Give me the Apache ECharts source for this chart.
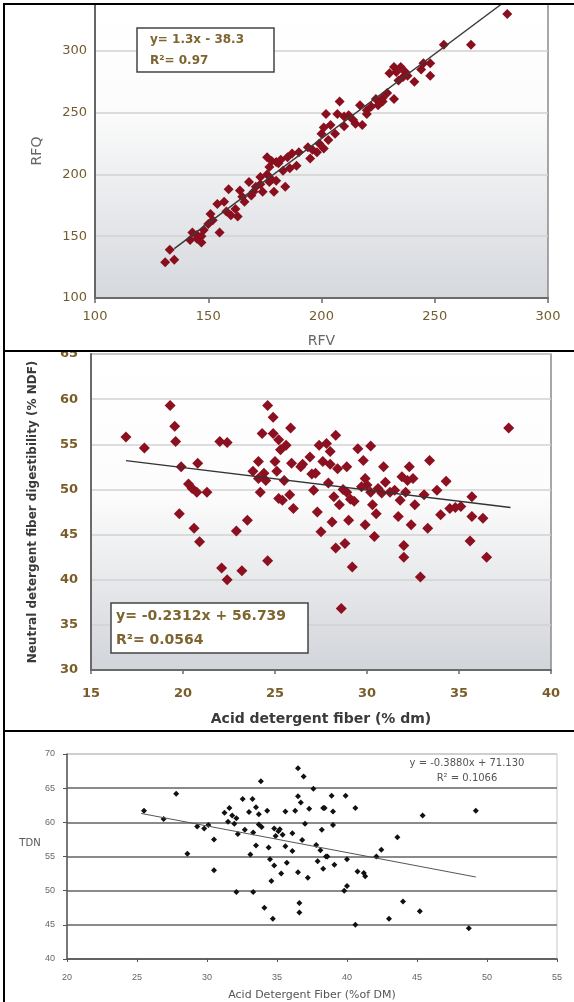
<!DOCTYPE html>
<html><head><meta charset="utf-8">
<script src="https://cdn.jsdelivr.net/npm/echarts@6/dist/echarts.min.js"></script>
<style>html,body{margin:0;padding:0;background:#fff}#c{width:574px;height:1002px}</style>
</head><body><div id="c"></div>
<script>
// ---------- Panel 1: RFQ vs RFV ----------
const rfvTicks = [100, 150, 200, 250, 300];
const rfqTicks = [100, 150, 200, 250, 300];
const rfqData = [
 [131,129],[133,139],[135,131],[142,147],[143,153],[145,151],[147,145],[148,155],[150,160],[151,168],
 [152,163],[155,153],[154,176],[157,178],[159,188],[160,167],[163,166],[164,187],[165,182],[166,178],
 [168,194],[169,183],[171,190],[173,198],[174,186],[176,214],[177,194],[177,206],[178,211],[179,186],
 [180,195],[181,209],[183,203],[184,190],[185,214],[187,217],[189,207],[190,218],[194,222],[195,213],
 [198,218],[199,225],[201,221],[200,233],[201,238],[202,249],[204,240],[206,233],[207,249],[208,259],
 [210,247],[212,248],[214,244],[215,241],[217,256],[218,240],[220,249],[224,261],[225,256],[227,259],
 [229,266],[230,282],[232,287],[232,261],[233,283],[235,287],[236,279],[237,283],[241,275],[245,290],
 [248,280],[248,290],[254,305],[266,305],[282,330],
 [145,148],[147,150],[158,170],[170,186],[176,200],[178,196],[180,210],[182,212],[186,205],[196,220],
 [203,228],[210,239],[220,252],[222,255],[234,276],[238,280],[244,285],[227,262],[173,192],[162,172]
];
const rfqTrend = [[135,140],[279.5,338]];
const rfqEq = ['y= 1.3x - 38.3', 'R²= 0.97'];

// ---------- Panel 2: NDF digestibility vs ADF ----------
const adfTicks = [15, 20, 25, 30, 35, 40];
const ndfdTicks = [30, 35, 40, 45, 50, 55, 60, 65];
const ndfdData = [
 [16.9,55.8],[17.9,54.6],[19.3,59.3],[19.55,57.0],[19.6,55.3],[19.9,52.5],[19.8,47.3],[20.3,50.6],[20.5,50.1],[20.6,45.7],
 [20.8,52.9],[20.75,49.7],[20.9,44.2],[21.3,49.7],[22.1,41.3],[22.0,55.3],[22.4,55.2],[22.4,40.0],[22.9,45.4],[23.2,41.0],
 [23.5,46.6],[23.8,52.0],[24.1,53.1],[24.2,49.7],[24.1,51.2],[24.4,51.8],[24.3,56.2],[24.6,59.3],[24.6,42.1],[24.9,58.0],
 [24.9,56.2],[25.0,53.1],[25.1,52.0],[25.2,55.5],[25.3,54.4],[25.4,48.8],[25.5,51.0],[25.6,54.9],[25.8,49.4],[25.85,56.8],
 [26.0,47.9],[25.9,52.9],[26.4,52.5],[26.9,53.6],[27.1,49.9],[27.2,51.8],[27.4,54.9],[27.3,47.5],[27.5,45.3],[27.6,53.1],
 [27.8,55.1],[27.9,50.7],[28.0,54.2],[28.1,46.4],[28.2,49.2],[28.3,56.0],[28.3,43.5],[28.4,52.3],[28.5,48.3],[28.6,36.8],
 [28.8,44.0],[28.9,52.5],[28.9,49.7],[29.0,46.6],[29.2,41.4],[29.3,48.7],[29.5,54.5],[29.7,50.3],[29.8,53.2],[29.9,51.2],
 [29.9,46.1],[30.2,54.8],[30.2,49.7],[30.3,48.3],[30.4,44.8],[30.5,47.3],[30.6,50.1],[30.9,52.5],[31.0,50.8],[30.8,49.6],
 [31.25,49.7],[31.7,47.0],[31.8,48.8],[31.9,51.4],[32.0,43.8],[32.0,42.5],[32.1,49.7],[32.3,52.5],[32.4,46.1],[32.5,51.2],
 [32.6,48.3],[32.9,40.3],[33.1,49.4],[33.3,45.7],[33.4,53.2],[33.8,49.9],[34.0,47.2],[34.3,50.9],[34.5,47.9],[34.8,48.0],
 [35.1,48.1],[35.7,49.2],[35.6,44.3],[35.7,47.0],[36.3,46.8],[36.5,42.5],[37.7,56.8],
 [25.2,49.0],[26.5,52.8],[28.0,52.8],[28.7,50.0],[30.0,50.5],[31.5,49.9],[32.2,51.0],[24.5,51.0],[29.1,48.9],[27.0,51.7]
];
const ndfdTrend = [[16.9,53.2],[37.8,48.0]];
const ndfdEq = ['y= -0.2312x + 56.739', 'R²= 0.0564'];

// ---------- Panel 3: TDN vs ADF ----------
const adf2Ticks = [20, 25, 30, 35, 40, 45, 50, 55];
const tdnTicks = [40, 45, 50, 55, 60, 65, 70];
const tdnData = [
 [25.5,61.7],[26.9,60.5],[27.8,64.2],[28.6,55.4],[29.3,59.4],[29.8,59.1],[30.1,59.6],[30.5,57.5],[30.5,53.0],[31.25,61.4],
 [31.5,60.1],[31.6,62.1],[31.8,61.0],[31.95,59.8],[32.1,60.6],[32.1,49.8],[32.2,58.3],[32.55,63.4],[32.7,58.9],[33.0,61.5],
 [33.1,55.3],[33.25,63.4],[33.3,49.8],[33.3,58.5],[33.5,56.6],[33.5,62.2],[33.7,59.7],[33.7,61.2],[33.85,66.0],[33.9,59.3],
 [34.1,47.5],[34.3,61.7],[34.4,56.3],[34.5,54.6],[34.6,51.4],[34.7,45.9],[34.8,59.1],[34.8,53.7],[34.9,58.0],[35.1,58.7],
 [35.2,59.0],[35.3,52.5],[35.4,58.2],[35.6,61.6],[35.6,56.5],[35.7,54.1],[36.1,58.4],[36.1,55.8],[36.3,61.7],[36.5,67.9],
 [36.5,63.8],[36.5,52.7],[36.6,48.2],[36.6,46.8],[36.7,62.9],[36.8,57.4],[36.9,66.7],[37.0,59.8],[37.2,51.9],[37.3,62.0],
 [37.6,64.9],[37.8,56.7],[37.9,54.3],[38.1,55.9],[38.2,58.9],[38.3,62.1],[38.3,53.2],[38.4,62.1],[38.5,55.0],[38.6,55.0],
 [38.9,63.9],[39.0,59.6],[39.0,61.6],[39.1,53.8],[39.8,50.0],[39.9,63.9],[40.0,54.6],[40.0,50.7],[40.6,62.1],[40.6,45.0],
 [40.75,52.8],[41.2,52.6],[41.3,52.1],[42.1,55.0],[42.45,56.0],[43.0,45.9],[43.6,57.8],[44.0,48.4],[45.2,47.0],[45.4,61.0],
 [48.7,44.5],[49.2,61.7]
];
const tdnTrend = [[25.3,61.3],[49.2,52.0]];
const tdnEq = ['y = -0.3880x + 71.130', 'R² = 0.1066'];

const FF = '"DejaVu Sans", "Liberation Sans", sans-serif';
const FL = '"Liberation Sans", Arial, sans-serif';
const chart = echarts.init(document.getElementById('c'), null, {renderer: 'canvas'});

function only(ticks) { return v => ticks.includes(v) ? String(v) : ''; }

const grad = (mid, end) => ({type: 'linear', x: 0, y: 0, x2: 0, y2: 1,
  colorStops: [{offset: 0, color: '#ffffff'}, {offset: mid, color: '#fcfcfc'}, {offset: 1, color: end}]});

const option = {
  animation: false,
  grid: [
    {left: 95, top: 4, width: 453, height: 294, show: true, backgroundColor: grad(0.35, '#d5d8dd'), borderColor: '#8a8a8a', borderWidth: 1.5},
    {left: 91, top: 354, width: 460, height: 316, show: true, backgroundColor: grad(0.45, '#d1d4d9'), borderColor: '#8a8a8a', borderWidth: 1.5},
    {left: 67, top: 754, width: 490, height: 205, show: true, backgroundColor: '#fff', borderColor: '#c8c8c8', borderWidth: 1}
  ],
  xAxis: [
    {gridIndex: 0, type: 'value', min: rfvTicks[0], max: rfvTicks[rfvTicks.length-1], interval: 50,
     axisLine: {lineStyle: {color: '#6a6a6a', width: 2}}, axisTick: {show: true, length: 5, lineStyle: {color: '#6a6a6a', width: 1.5}},
     axisLabel: {color: '#735b2f', fontSize: 13, margin: 12, fontFamily: FF, formatter: only(rfvTicks)}, splitLine: {show: false},
     name: 'RFV', nameLocation: 'middle', nameGap: 36, nameTextStyle: {color: '#666', fontSize: 14, fontFamily: FF}},
    {gridIndex: 1, type: 'value', min: adfTicks[0], max: adfTicks[adfTicks.length-1], interval: 5,
     axisLine: {lineStyle: {color: '#6a6a6a', width: 2}}, axisTick: {show: true, length: 4, lineStyle: {color: '#6a6a6a', width: 1.5}},
     axisLabel: {color: '#7a5c28', fontSize: 13, fontWeight: 'bold', margin: 17, fontFamily: FF, formatter: only(adfTicks)}, splitLine: {show: false},
     name: 'Acid detergent fiber (% dm)', nameLocation: 'middle', nameGap: 42,
     nameTextStyle: {color: '#3a3a3a', fontSize: 14, fontWeight: 'bold', fontFamily: FF}},
    {gridIndex: 2, type: 'value', min: adf2Ticks[0], max: adf2Ticks[adf2Ticks.length-1], interval: 5,
     axisLine: {lineStyle: {color: '#555', width: 1.5}}, axisTick: {show: true, length: 3, lineStyle: {color: '#555'}},
     axisLabel: {color: '#666', fontSize: 9, margin: 14, fontFamily: FL, formatter: only(adf2Ticks)}, splitLine: {show: false},
     name: 'Acid Detergent Fiber (%of DM)', nameLocation: 'middle', nameGap: 31,
     nameTextStyle: {color: '#555', fontSize: 11, fontFamily: FF}}
  ],
  yAxis: [
    {gridIndex: 0, type: 'value', min: rfqTicks[0], max: 338, interval: 50,
     axisLine: {show: true, lineStyle: {color: '#666', width: 2}}, axisTick: {show: false},
     axisLabel: {color: '#735b2f', fontSize: 13, margin: 8, fontFamily: FF, formatter: only(rfqTicks)},
     splitLine: {show: true, lineStyle: {color: '#d2d2d2', width: 1.5}},
     name: 'RFQ', nameLocation: 'middle', nameGap: 51, nameTextStyle: {color: '#666', fontSize: 14, fontFamily: FF}},
    {gridIndex: 1, type: 'value', min: ndfdTicks[0], max: ndfdTicks[ndfdTicks.length-1], interval: 5,
     axisLine: {show: true, lineStyle: {color: '#6a6a6a', width: 2}}, axisTick: {show: false},
     axisLabel: {color: '#7a5c28', fontSize: 13, fontWeight: 'bold', margin: 13, fontFamily: FF, formatter: only(ndfdTicks)},
     splitLine: {show: true, lineStyle: {color: '#d2d2d2', width: 1.5}},
     name: 'Neutral detergent fiber digestibility (% NDF)', nameLocation: 'middle', nameGap: 52,
     nameTextStyle: {color: '#3a3a3a', fontSize: 12, fontWeight: 'bold', fontFamily: FF}},
    {gridIndex: 2, type: 'value', min: tdnTicks[0], max: tdnTicks[tdnTicks.length-1], interval: 5,
     axisLine: {show: true, lineStyle: {color: '#555', width: 1.5}}, axisTick: {show: true, length: 4, lineStyle: {color: '#555'}},
     axisLabel: {color: '#666', fontSize: 9, margin: 12, fontFamily: FL, formatter: only(tdnTicks)},
     splitLine: {show: true, lineStyle: {color: ['#8a8a8a','#8a8a8a','#8a8a8a','#8a8a8a','#8a8a8a','#8a8a8a','#cfcfcf'], width: 1.8}}}
  ],
  series: [
    {type: 'scatter', xAxisIndex: 0, yAxisIndex: 0, data: rfqData, symbol: 'diamond', symbolSize: 10,
     itemStyle: {color: '#8a0f1e', opacity: 1}, z: 2},
    {type: 'line', xAxisIndex: 0, yAxisIndex: 0, data: rfqTrend, symbol: 'none', lineStyle: {color: '#3a3a3a', width: 1.5}, z: 3},
    {type: 'scatter', xAxisIndex: 1, yAxisIndex: 1, data: ndfdData, symbol: 'diamond', symbolSize: 11,
     itemStyle: {color: '#8c1020', opacity: 1}, z: 2},
    {type: 'line', xAxisIndex: 1, yAxisIndex: 1, data: ndfdTrend, symbol: 'none', lineStyle: {color: '#333', width: 1.3}, z: 3},
    {type: 'scatter', xAxisIndex: 2, yAxisIndex: 2, data: tdnData, symbol: 'diamond', symbolSize: 6,
     itemStyle: {color: '#111', opacity: 1}, z: 2},
    {type: 'line', xAxisIndex: 2, yAxisIndex: 2, data: tdnTrend, symbol: 'none', lineStyle: {color: '#555', width: 1}, z: 3}
  ],
  graphic: [
    // equation box panel 1
    {type: 'rect', shape: {x: 137, y: 28, width: 137, height: 44}, style: {fill: '#fff', stroke: '#444', lineWidth: 1.5}, z: 50},
    {type: 'text', x: 150, y: 40, style: {text: rfqEq[0], fill: '#7d6530', font: 'bold 12px ' + FF, verticalAlign: 'middle'}, z: 51},
    {type: 'text', x: 150, y: 61, style: {text: rfqEq[1], fill: '#7d6530', font: 'bold 12px ' + FF, verticalAlign: 'middle'}, z: 51},
    // equation box panel 2
    {type: 'rect', shape: {x: 111, y: 603, width: 197, height: 50}, style: {fill: '#fff', stroke: '#444', lineWidth: 1.5}, z: 50},
    {type: 'text', x: 116, y: 616, style: {text: ndfdEq[0], fill: '#7d6530', font: 'bold 14px ' + FF, verticalAlign: 'middle'}, z: 51},
    {type: 'text', x: 116, y: 640, style: {text: ndfdEq[1], fill: '#7d6530', font: 'bold 14px ' + FF, verticalAlign: 'middle'}, z: 51},
    // equation panel 3
    {type: 'text', x: 467, y: 763, style: {text: tdnEq[0], fill: '#555', font: '10px ' + FF, align: 'center', verticalAlign: 'middle'}, z: 51},
    {type: 'text', x: 467, y: 778, style: {text: tdnEq[1], fill: '#555', font: '10px ' + FF, align: 'center', verticalAlign: 'middle'}, z: 51},
    // TDN axis title
    {type: 'text', x: 30, y: 843, style: {text: 'TDN', fill: '#555', font: '10px ' + FF, align: 'center', verticalAlign: 'middle'}, z: 51},
    // mask clipping top of "65"
    {type: 'rect', shape: {x: 30, y: 343, width: 64, height: 8}, style: {fill: '#fff'}, z: 90},
    // panel borders
    {type: 'line', shape: {x1: 3, y1: 4, x2: 574, y2: 4}, style: {stroke: '#000', lineWidth: 2}, z: 100},
    {type: 'line', shape: {x1: 3, y1: 351, x2: 574, y2: 351}, style: {stroke: '#000', lineWidth: 2}, z: 100},
    {type: 'line', shape: {x1: 3, y1: 731, x2: 574, y2: 731}, style: {stroke: '#000', lineWidth: 2}, z: 100},
    {type: 'line', shape: {x1: 4, y1: 3, x2: 4, y2: 1002}, style: {stroke: '#000', lineWidth: 2}, z: 100}
  ]
};
chart.setOption(option);
</script></body></html>
